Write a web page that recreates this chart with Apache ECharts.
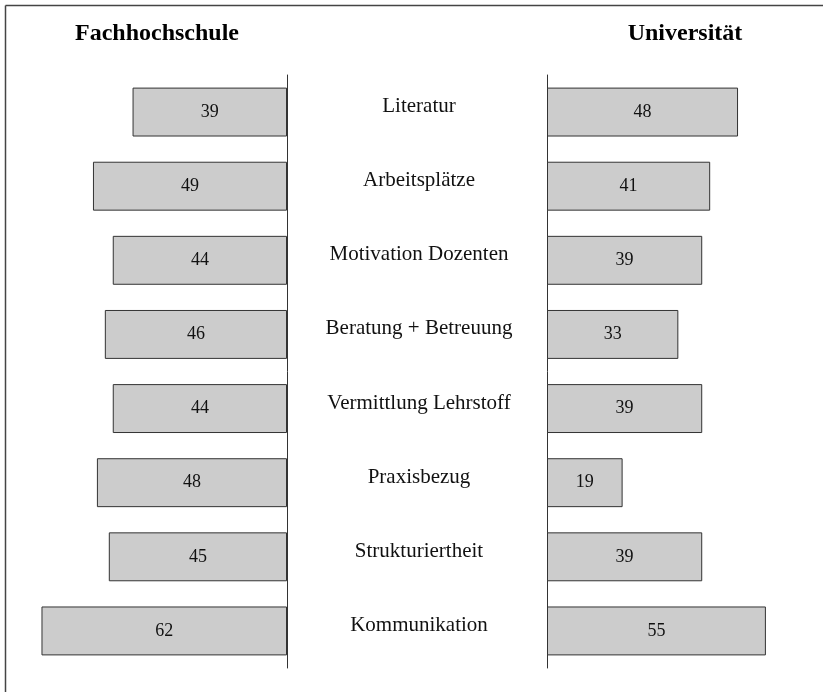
<!DOCTYPE html>
<html>
<head>
<meta charset="utf-8">
<script src="https://cdn.jsdelivr.net/npm/echarts@6/dist/echarts.min.js"></script>
<style>
html,body{margin:0;padding:0;background:#fff;}
#chart{width:823px;height:692px;}
</style>
</head>
<body>
<div id="chart"></div>
<script>
const categories = ['Literatur','Arbeitsplätze','Motivation Dozenten','Beratung + Betreuung','Vermittlung Lehrstoff','Praxisbezug','Strukturiertheit','Kommunikation'];
const fachhochschule = [39,49,44,46,44,48,45,62];
const universitaet = [48,41,39,33,39,19,39,55];
const groupTitles = ['Fachhochschule','Universität'];

const serif = '"Liberation Serif", "DejaVu Serif", serif';
const chart = echarts.init(document.getElementById('chart'));
const barStyle = {color:'#cccccc', borderColor:'#333333', borderWidth:1};
const valLabel = {show:true, position:'inside', color:'#111', fontFamily:serif, fontSize:18};

chart.setOption({
  animation:false,
  backgroundColor:'#ffffff',
  graphic:[
    {type:'line', shape:{x1:5.5,y1:5.5,x2:823,y2:5.5}, style:{stroke:'#444',lineWidth:1.5}},
    {type:'line', shape:{x1:5.5,y1:5.5,x2:5.5,y2:692}, style:{stroke:'#444',lineWidth:1.5}},
    {type:'text', x:157, y:22, style:{text:groupTitles[0], font:'bold 24px '+serif, fill:'#000', align:'center', verticalAlign:'top'}},
    {type:'text', x:685, y:22, style:{text:groupTitles[1], font:'bold 24px '+serif, fill:'#000', align:'center', verticalAlign:'top'}}
  ],
  grid:[
    {left:29.6, right:536, top:75, bottom:24},
    {left:547, right:17.3, top:75, bottom:24}
  ],
  xAxis:[
    {gridIndex:0, type:'value', min:0, max:65, inverse:true, show:false},
    {gridIndex:1, type:'value', min:0, max:65, show:false}
  ],
  yAxis:[
    {gridIndex:0, type:'category', data:categories, inverse:true, position:'right',
     axisLine:{show:true, onZero:false, lineStyle:{color:'#333', width:1}},
     axisTick:{show:false},
     axisLabel:{show:true, margin:132, align:'center', verticalAlign:'bottom', lineHeight:11, color:'#111', fontFamily:serif, fontSize:21}},
    {gridIndex:1, type:'category', data:categories, inverse:true, position:'left',
     axisLine:{show:true, onZero:false, lineStyle:{color:'#333', width:1}},
     axisTick:{show:false}, axisLabel:{show:false}}
  ],
  series:[
    {type:'bar', xAxisIndex:0, yAxisIndex:0, data:fachhochschule, barWidth:'66%', itemStyle:barStyle, label:valLabel},
    {type:'bar', xAxisIndex:1, yAxisIndex:1, data:universitaet, barWidth:'66%', itemStyle:barStyle, label:valLabel}
  ]
});
</script>
</body>
</html>
